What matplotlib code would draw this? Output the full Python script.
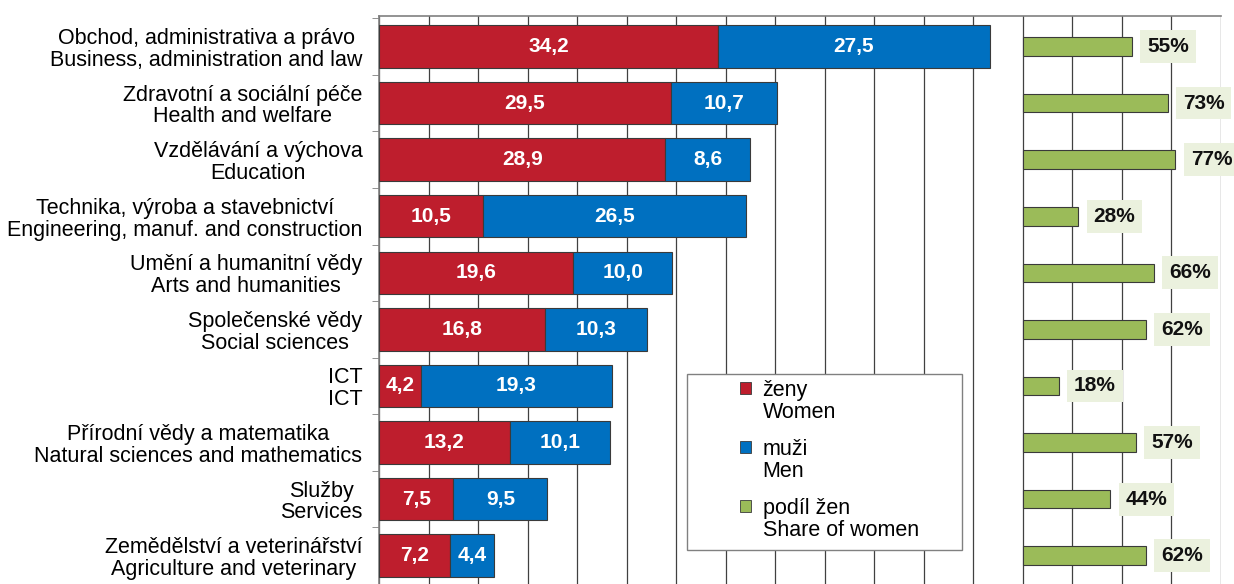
import matplotlib.pyplot as plt
import numpy as np
from matplotlib.patches import Patch, Rectangle

plt.rcParams['font.family'] = ['Liberation Sans', 'DejaVu Sans']

# fields of education, Czech / English
cats_cz = ["Obchod, administrativa a právo", "Zdravotní a sociální péče",
           "Vzdělávání a výchova", "Technika, výroba a stavebnictví",
           "Umění a humanitní vědy", "Společenské vědy", "ICT",
           "Přírodní vědy a matematika", "Služby",
           "Zemědělství a veterinářství"]
cats_en = ["Business, administration and law", "Health and welfare",
           "Education", "Engineering, manuf. and construction",
           "Arts and humanities", "Social sciences", "ICT",
           "Natural sciences and mathematics", "Services",
           "Agriculture and veterinary"]
women = [34.2, 29.5, 28.9, 10.5, 19.6, 16.8, 4.2, 13.2, 7.5, 7.2]
men = [27.5, 10.7, 8.6, 26.5, 10.0, 10.3, 19.3, 10.1, 9.5, 4.4]
share = [55, 73, 77, 28, 66, 62, 18, 57, 44, 62]

RED = '#BE1E2D'
BLUE = '#0070C0'
GREEN = '#9BBB59'
EDGE = '#3a3a3a'

# share bars sit on the same axis, shifted right; 100 % = 20 axis units
share_start = 65
share_scale = 20 / 100.0

W, H = 1234, 584
fig = plt.figure(figsize=(W / 100, H / 100), dpi=100)
ax = fig.add_axes([379 / W, 0, (1221 - 379) / W, (H - 16) / H])

y = np.arange(len(women))
ax.barh(y, women, height=0.75, color=RED, edgecolor=EDGE, linewidth=0.8, zorder=3)
ax.barh(y, men, left=women, height=0.75, color=BLUE, edgecolor=EDGE, linewidth=0.8, zorder=3)
sw = [s * share_scale for s in share]
ax.barh(y, sw, left=share_start, height=0.33, color=GREEN, edgecolor=EDGE, linewidth=0.8, zorder=3)

for i in range(len(women)):
    ax.text(women[i] / 2, i, ('%.1f' % women[i]).replace('.', ','), ha='center', va='center',
            color='white', fontsize=15, fontweight='bold', zorder=4)
    ax.text(women[i] + men[i] / 2, i, ('%.1f' % men[i]).replace('.', ','), ha='center', va='center',
            color='white', fontsize=15, fontweight='bold', zorder=4)
    ax.text(share_start + sw[i] + 1.55, i, '%d%%' % share[i], ha='left', va='center',
            color='#111111', fontsize=15, fontweight='bold', zorder=4, clip_on=False,
            bbox=dict(boxstyle='square,pad=0.33', facecolor='#EBF1DE', edgecolor='none'))

ax.set_xlim(0, 85)
ax.set_ylim(9.4, -0.54)
ax.set_xticks(np.arange(0, 86, 5))
ax.tick_params(axis='x', length=0, labelbottom=False)
ax.grid(axis='x', color='#404040', linewidth=0.9, zorder=0)

ax.set_yticks(y)
ax.set_yticklabels([c + '\n' + e for c, e in zip(cats_cz, cats_en)], fontsize=15.5,
                   multialignment='center', linespacing=1.05)
ax.tick_params(axis='y', length=0, pad=12)
ax.set_yticks(np.arange(-0.5, 9.6, 1), minor=True)
ax.tick_params(axis='y', which='minor', length=5, color='#808080')

for s in ['right', 'bottom']:
    ax.spines[s].set_visible(False)
ax.spines['top'].set_color('#808080')
ax.spines['left'].set_color('#808080')
ax.spines['top'].set_linewidth(1.2)
ax.spines['left'].set_linewidth(1.2)

# legend frame drawn separately, it is wider than its content
frame = Rectangle((687 / W, 1 - 550 / H), (962 - 687) / W, (550 - 374) / H,
                  transform=fig.transFigure, facecolor='white', edgecolor='#808080',
                  linewidth=1.0, zorder=5)
ax.add_artist(frame)
frame.set_clip_on(False)

handles = [Patch(facecolor=RED, edgecolor=EDGE, linewidth=0.6),
           Patch(facecolor=BLUE, edgecolor=EDGE, linewidth=0.6),
           Patch(facecolor=GREEN, edgecolor=EDGE, linewidth=0.6)]
labels = ["ženy\nWomen", "muži\nMen", "podíl žen\nShare of women"]
leg = ax.legend(handles, labels, loc='upper left', bbox_to_anchor=(740 / W, 1 - 380 / H),
                bbox_transform=fig.transFigure,
                fontsize=15.5, frameon=False,
                handlelength=0.5, handleheight=0.5, handletextpad=0.55,
                labelspacing=0.75, borderpad=0, borderaxespad=0)
for t in leg.get_texts():
    t.set_linespacing(1.05)
for h in leg.legend_handles:
    h.set_y(h.get_y() + 10)
leg.set_zorder(6)

fig.savefig('out.png', dpi=100)
